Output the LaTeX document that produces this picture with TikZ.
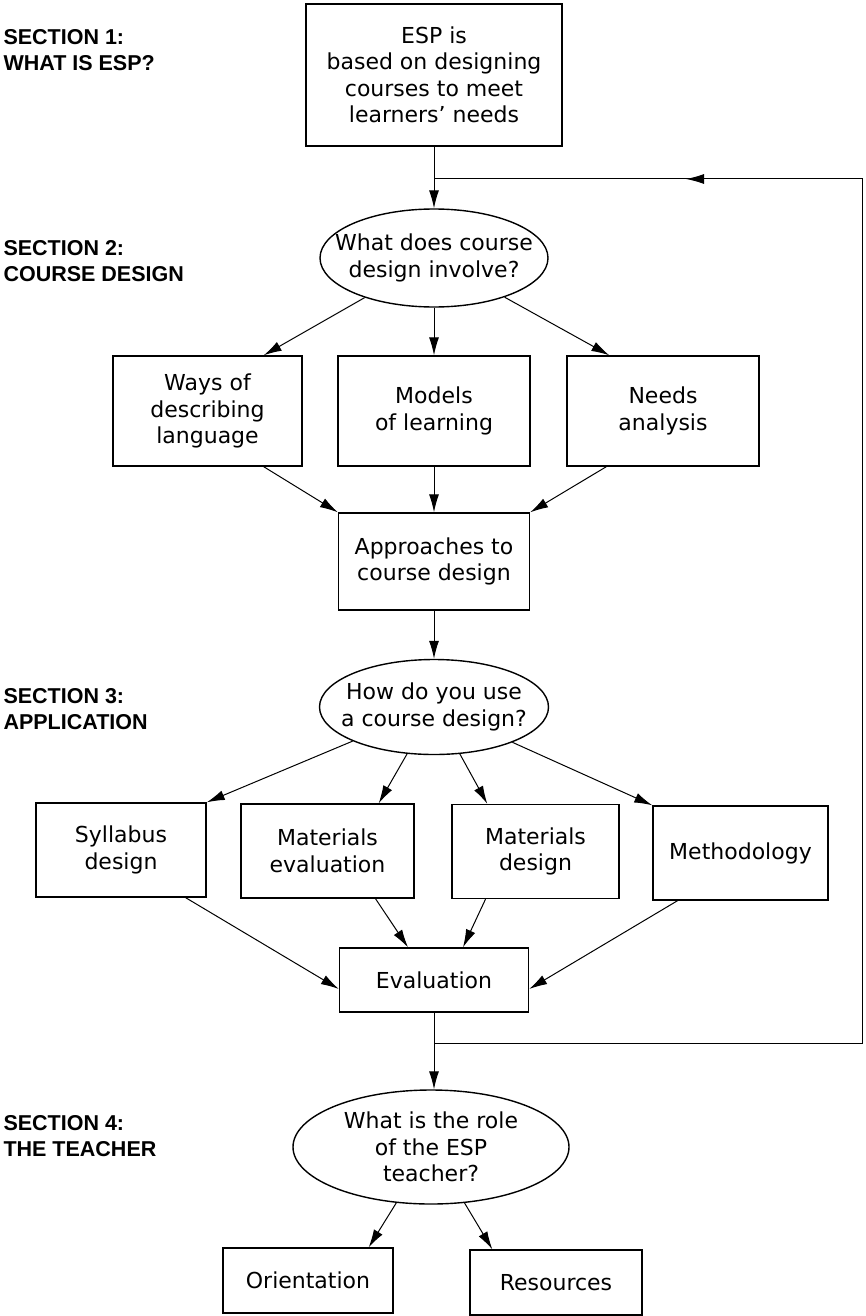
\documentclass[tikz,border=0pt]{standalone}
\usepackage{fontspec}
\setmainfont{DejaVu Sans}
\newfontfamily\labelfont{Liberation Sans}
\usetikzlibrary{shapes.geometric,arrows.meta}

\begin{document}
\begin{tikzpicture}[x=1pt,y=-1pt,line width=1pt,font=\fontsize{22}{26.5}\selectfont]
    \tikzstyle{arr}=[-{Latex[length=18pt,width=10pt]}]
    \tikzstyle{box}=[draw,rectangle,line width=1.4pt,align=center,inner sep=0pt]
    \tikzstyle{question}=[draw,ellipse,line width=1.4pt,align=center,inner xsep=-22pt,inner ysep=0pt]
    \tikzstyle{section}=[anchor=west,align=left,inner sep=0pt,
        font=\labelfont\bfseries\fontsize{21.5}{26}\selectfont]

    \useasboundingbox (0,0) rectangle (866,1316);

    % Draw the section labels on the left
    \foreach \name/\y/\txt in {1/50/{SECTION 1:\\WHAT IS ESP?},
                               2/261/{SECTION 2:\\COURSE DESIGN},
                               3/709/{SECTION 3:\\APPLICATION},
                               4/1136/{SECTION 4:\\THE TEACHER}}
        \node[section] (S-\name) at (3,\y) {\txt};

    % Section 1
    \node[box,minimum width=256pt,minimum height=142pt] (esp) at (434,75)
        {ESP is\\based on designing\\courses to meet\\learners' needs};

    % Section 2: course design
    \node[question,minimum width=228pt,minimum height=98pt] (q1) at (434,258)
        {What does course\\design involve?};
    \node[box,minimum width=189pt,minimum height=110pt] (ways) at (207.5,411)
        {Ways of\\describing\\language};
    \node[box,minimum width=192pt,minimum height=110pt] (models) at (434,411)
        {Models\\of learning};
    \node[box,minimum width=192pt,minimum height=110pt] (needs) at (663,411)
        {Needs\\analysis};
    \node[box,minimum width=191pt,minimum height=97pt] (approach) at (434,561.5)
        {Approaches to\\course design};

    % Section 3: application
    \node[question,minimum width=229pt,minimum height=95pt] (q2) at (434,707)
        {How do you use\\a course design?};
    \node[box,minimum width=170pt,minimum height=94pt] (syl) at (121,850)
        {Syllabus\\design};
    \node[box,minimum width=173pt,minimum height=94pt] (me) at (327.5,851)
        {Materials\\evaluation};
    \node[box,minimum width=167pt,minimum height=94pt] (md) at (535.5,851.5)
        {Materials\\design};
    \node[box,minimum width=175pt,minimum height=94pt] (meth) at (740.5,853)
        {Methodology};
    \node[box,minimum width=189pt,minimum height=64pt] (eval) at (434,980)
        {Evaluation};

    % Section 4: the teacher
    \node[question,minimum width=276pt,minimum height=114pt] (q3) at (431,1147)
        {What is the role\\of the ESP\\teacher?};
    \node[box,minimum width=170pt,minimum height=65pt] (orient) at (308,1280.5)
        {Orientation};
    \node[box,minimum width=172pt,minimum height=65pt] (res) at (556,1282.5)
        {Resources};

    % Feedback loop from evaluation back to course design
    \coordinate (jt) at (434,179);
    \coordinate (jb) at (434,1043);
    \coordinate (rt) at (862,179);
    \coordinate (rb) at (862,1043);
    \coordinate (fb) at (686,179);
    \draw (jb) -- (rb) -- (rt) -- (jt);
    \draw[arr] (rt) -- (fb);

    % Connect the nodes
    \draw[arr] (esp) -- (q1);
    \draw[arr] (q1) -- ([xshift=-39pt]ways.north east);
    \draw[arr] (q1) -- (models);
    \draw[arr] (q1) -- ([xshift=43pt]needs.north west);
    \draw[arr] ([xshift=-39pt]ways.south east) -- (approach.north west);
    \draw[arr] (models) -- (approach);
    \draw[arr] ([xshift=40pt]needs.south west) -- (approach.north east);
    \draw[arr] (approach) -- (q2);

    \draw[arr] (q2) -- (syl.north east);
    \draw[arr] (q2) -- ([xshift=-36pt]me.north east);
    \draw[arr] (q2) -- ([xshift=36pt]md.north west);
    \draw[arr] (q2) -- (meth.north west);
    \draw[arr] ([xshift=-21pt]syl.south east) -- ([yshift=-9pt]eval.west);
    \draw[arr] ([xshift=48pt]me.south) -- ([xshift=-26pt]eval.north);
    \draw[arr] ([xshift=-50pt]md.south) -- ([xshift=29pt]eval.north);
    \draw[arr] ([xshift=-63pt]meth.south) -- ([yshift=-9pt]eval.east);

    \draw[arr] (eval) -- (eval |- q3.north);
    \draw[arr] (q3) -- ([xshift=-25pt]orient.north east);
    \draw[arr] (q3) -- ([xshift=23pt]res.north west);
\end{tikzpicture}
\end{document}
